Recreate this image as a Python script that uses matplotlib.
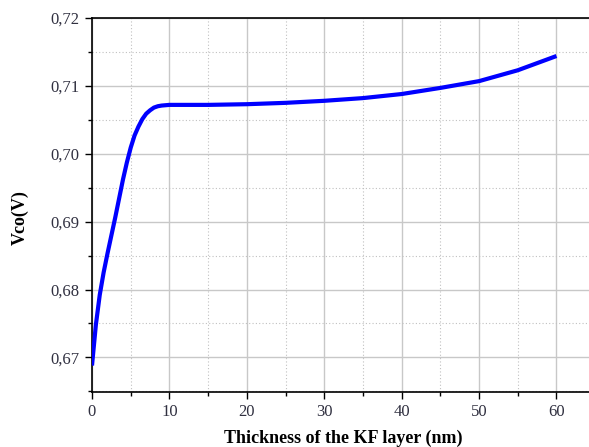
import matplotlib
matplotlib.use("Agg")
import matplotlib.pyplot as plt
from matplotlib.ticker import MultipleLocator, FuncFormatter

thickness = [0, 0.5, 1, 1.5, 2, 3, 4, 4.5, 5, 5.5, 6, 6.5, 7, 7.5, 8, 8.5, 9, 10, 15, 20, 25, 30, 35, 40, 45, 50, 55, 60]
vco = [0.6688, 0.6748, 0.6792, 0.6825, 0.6853, 0.6906, 0.6962, 0.6987, 0.7009, 0.7027, 0.7040, 0.7051, 0.7059, 0.7064,
       0.7068, 0.7070, 0.7071, 0.7072, 0.7072, 0.7073, 0.7075, 0.7078, 0.7082, 0.7088, 0.7097, 0.7107, 0.7123, 0.7144]

xlabel = "Thickness of the KF layer (nm)"
ylabel = "Vco(V)"

fig = plt.figure(figsize=(5.89, 4.47), dpi=100)
ax = fig.add_axes([92/589, 1-392/447, 1-92/589, (392-18)/447])

ax.plot(thickness, vco, color="#0000ff", lw=3.0, solid_capstyle="butt", solid_joinstyle="round", zorder=3)

ax.set_xlim(0, 64.2)
ax.set_ylim(0.6649, 0.72)
ax.xaxis.set_major_locator(MultipleLocator(10))
ax.xaxis.set_minor_locator(MultipleLocator(5))
ax.yaxis.set_major_locator(MultipleLocator(0.01))
ax.yaxis.set_minor_locator(MultipleLocator(0.005))
ax.yaxis.set_major_formatter(FuncFormatter(lambda v, p: f"{v:.2f}".replace(".", ",")))

ax.grid(which="major", color="#c8c8c8", lw=1.0, ls="-", zorder=0)
ax.grid(which="minor", color="#c0c0c0", lw=0.8, ls=(0, (1, 2)), zorder=0)

for s in ["left", "bottom", "top"]:
    ax.spines[s].set_color("black")
    ax.spines[s].set_linewidth(1.2)
ax.spines["right"].set_visible(False)

ax.tick_params(which="major", direction="out", length=5, width=1.0, labelsize=12, colors="black",
               labelcolor="#303040", pad=4)
ax.tick_params(which="minor", direction="out", length=3, width=1.0)
for lab in ax.get_xticklabels() + ax.get_yticklabels():
    lab.set_fontfamily("Liberation Serif")

fig.text(343/589, 1-443/447, xlabel, fontfamily="Liberation Serif", fontweight="bold", fontsize=13,
         ha="center", va="baseline")
fig.text(20/589, 1-218/447, ylabel, fontfamily="Liberation Serif", fontweight="bold", fontsize=13,
         ha="center", va="center", rotation=90)

fig.savefig("out.png", dpi=100)
